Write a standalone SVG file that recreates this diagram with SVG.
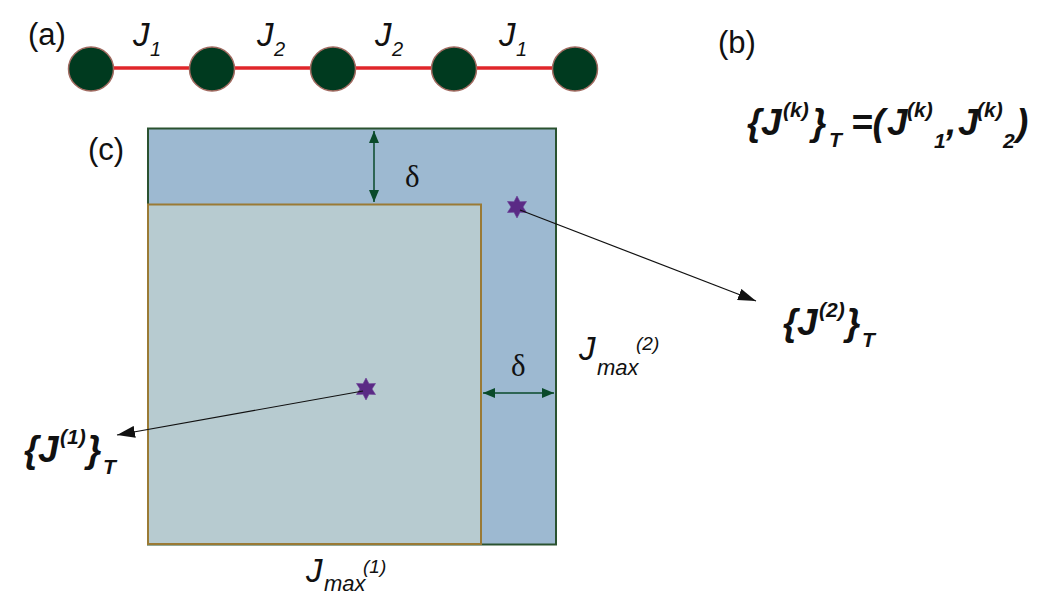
<svg xmlns="http://www.w3.org/2000/svg" width="1058" height="595" viewBox="0 0 1058 595">
<defs>
<style>
.lbl{font-family:"Liberation Sans",Arial,sans-serif;font-size:31px;fill:#111}
.j{font-family:"Liberation Sans",Arial,sans-serif;font-style:italic;fill:#111}
.bi{font-family:"Liberation Sans",Arial,sans-serif;font-style:italic;font-weight:bold;fill:#111}
.delta{font-family:"Liberation Serif","Times New Roman",serif;font-size:31px;fill:#111}
.node{fill:#003a1f;stroke:#a06a60;stroke-width:1.5}
.bond{stroke:#e0262a;stroke-width:3.5}
.dim{stroke:#0a4a2a;stroke-width:1.5;fill:none}
.ptr{stroke:#111;stroke-width:1.2;fill:none}
.star{fill:#5a2a85;stroke:#6a3a95;stroke-width:0.6}
</style>
<marker id="dh2" viewBox="0 0 12 10" refX="12" refY="5" markerWidth="12" markerHeight="14" markerUnits="userSpaceOnUse" orient="auto-start-reverse">
<path d="M0,0 L12,5 L0,10 z" fill="#0a4a2a"/>
</marker>
<marker id="ah" viewBox="0 0 18 12" refX="18" refY="6" markerWidth="18" markerHeight="12" markerUnits="userSpaceOnUse" orient="auto">
<path d="M0,0 L18,6 L0,12 z" fill="#111"/>
</marker>
<path id="starshape" d="M0,-11 L3,-5.2 L9.5,-5.5 L6,0 L9.5,5.5 L3,5.2 L0,11 L-3,5.2 L-9.5,5.5 L-6,0 L-9.5,-5.5 L-3,-5.2 z"/>
</defs>
<rect width="1058" height="595" fill="#fff"/>

<g id="panel-a">
<text class="lbl" x="28" y="45">(a)</text>
<g id="bonds">
<line class="bond" x1="112" y1="68" x2="192" y2="68"/>
<line class="bond" x1="233" y1="68" x2="313" y2="68"/>
<line class="bond" x1="354" y1="68" x2="434" y2="68"/>
<line class="bond" x1="475" y1="68" x2="555" y2="68"/>
</g>
<g id="site1"><ellipse class="node" cx="91" cy="69" rx="22.5" ry="22"/></g>
<g id="site2"><ellipse class="node" cx="212" cy="69" rx="22.5" ry="22"/></g>
<g id="site3"><ellipse class="node" cx="333" cy="69" rx="22.5" ry="22"/></g>
<g id="site4"><ellipse class="node" cx="454" cy="69" rx="22.5" ry="22"/></g>
<g id="site5"><ellipse class="node" cx="575" cy="69" rx="22.5" ry="22"/></g>
<text class="j" font-size="33" x="133" y="46">J<tspan font-size="20" x="150" y="56">1</tspan></text>
<text class="j" font-size="33" x="257" y="46">J<tspan font-size="20" x="274" y="56">2</tspan></text>
<text class="j" font-size="33" x="375" y="46">J<tspan font-size="20" x="392" y="56">2</tspan></text>
<text class="j" font-size="33" x="499" y="46">J<tspan font-size="20" x="516" y="56">1</tspan></text>
</g>

<g id="panel-b">
<text class="lbl" x="718" y="53">(b)</text>
<text class="bi" font-size="37" x="747" y="135">{<tspan x="761">J</tspan><tspan font-size="21" x="783" y="117">(k)</tspan><tspan x="812" y="135">}</tspan><tspan font-size="21" x="829" y="147">T</tspan><tspan x="851" y="135">=(</tspan><tspan x="887">J</tspan><tspan font-size="21" x="907" y="117">(k)</tspan><tspan font-size="21" x="934" y="148">1</tspan><tspan x="946" y="135">,</tspan><tspan x="958">J</tspan><tspan font-size="21" x="977" y="117">(k)</tspan><tspan font-size="21" x="1003" y="148">2</tspan><tspan x="1016" y="135">)</tspan></text>
</g>

<g id="panel-c">
<text class="lbl" x="88" y="160">(c)</text>
<g id="outer-region"><rect x="148" y="128.5" width="408" height="416" fill="#9db9d1" stroke="#2a5230" stroke-width="2"/></g>
<g id="inner-region"><rect x="148" y="204.5" width="333" height="339.5" fill="#b7cbd0" stroke="#9a7a35" stroke-width="2"/></g>
<g id="point1"><use href="#starshape" class="star" x="517" y="207"/></g>
<g id="point2"><use href="#starshape" class="star" x="366" y="389"/></g>
<g id="connectors">
<line class="dim" x1="374" y1="131" x2="374" y2="202" marker-start="url(#dh2)" marker-end="url(#dh2)"/>
<line class="dim" x1="483" y1="393" x2="554" y2="393" marker-start="url(#dh2)" marker-end="url(#dh2)"/>
<line class="ptr" x1="520" y1="210" x2="756" y2="301" marker-end="url(#ah)"/>
<line class="ptr" x1="363" y1="391" x2="117" y2="435" marker-end="url(#ah)"/>
</g>
<text class="delta" x="405" y="187">δ</text>
<text class="delta" x="511" y="376">δ</text>
<text class="bi" font-size="37" x="783" y="335">{<tspan x="797">J</tspan><tspan font-size="21" x="819" y="317">(2)</tspan><tspan x="846" y="335">}</tspan><tspan font-size="21" x="862" y="347">T</tspan></text>
<text class="bi" font-size="37" x="24" y="462">{<tspan x="38">J</tspan><tspan font-size="21" x="60" y="444">(1)</tspan><tspan x="87" y="462">}</tspan><tspan font-size="21" x="103" y="474">T</tspan></text>
<text class="j" font-size="33" x="579" y="360">J<tspan font-size="22" x="597" y="375">max</tspan><tspan font-size="19" x="636" y="350">(2)</tspan></text>
<text class="j" font-size="33" x="306" y="582">J<tspan font-size="22" x="324" y="591">max</tspan><tspan font-size="19" x="363" y="573">(1)</tspan></text>
</g>
</svg>
